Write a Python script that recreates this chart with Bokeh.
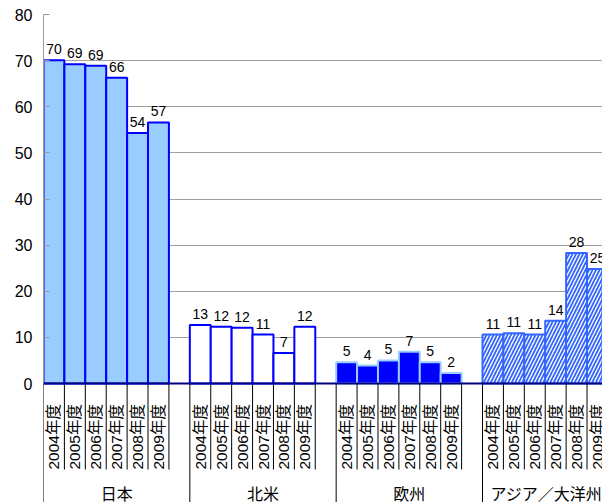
import numpy as np
from bokeh.plotting import figure
from bokeh.models import Range1d, FixedTicker, Span, ColumnDataSource
from bokeh.core.properties import value
from bokeh.embed import file_html
from bokeh.resources import INLINE

# ---- data ----
regions = ["日本", "北米", "欧州", "アジア／大洋州"]
years = ["2004年度", "2005年度", "2006年度", "2007年度", "2008年度", "2009年度"]
japan = [70.1, 69.2, 68.9, 66.3, 54.3, 56.6]
north_america = [12.7, 12.3, 12.1, 10.6, 6.6, 12.3]
europe = [4.6, 3.9, 5.0, 6.9, 4.6, 2.3]
asia_oceania = [10.6, 10.9, 10.6, 13.6, 28.3, 24.8]
y_ticks = [0, 10, 20, 30, 40, 50, 60, 70, 80]

series = [japan, north_america, europe, asia_oceania]

# ---- layout ----
FIG_W, FIG_H = 602, 502
LEFT, TOP = 43, 14
FRAME_W = FIG_W - LEFT
FRAME_H = FIG_H - TOP
PX = 4.6125          # px per unit
SLOT = 20.905        # px per bar slot
GROUP = 7            # 6 bars + 1 empty slot
x_end = FRAME_W / SLOT
y_top = 80
y_bottom = y_top - FRAME_H / PX

NUM_FONT = value("Liberation Sans")
MIX_FONT = value("Liberation Sans, Noto Sans CJK JP")
JP_FONT = value("Noto Sans CJK JP")

p = figure(width=FIG_W, height=FIG_H, output_backend="svg", toolbar_location=None,
           x_range=Range1d(0, x_end), y_range=Range1d(y_bottom, y_top),
           x_axis_location=None, min_border_left=LEFT, min_border_right=0,
           min_border_top=TOP, min_border_bottom=0)
p.outline_line_color = None
p.background_fill_color = "white"
p.xgrid.visible = False
p.ygrid.ticker = FixedTicker(ticks=[t for t in y_ticks if t > 0])
p.ygrid.grid_line_color = "#A0A0A0"
p.ygrid.grid_line_width = 1

ax = p.yaxis[0]
ax.ticker = FixedTicker(ticks=y_ticks)
ax.bounds = (0, 80)
ax.axis_line_color = "#999999"
ax.major_tick_in = 6
ax.major_tick_out = 0
ax.major_tick_line_color = "#999999"
ax.minor_tick_line_color = None
ax.major_label_standoff = 11
ax.major_label_text_font = "Liberation Sans"
ax.major_label_text_font_size = "16px"
ax.major_label_text_color = "black"

styles = [
    dict(fill_color="#99CCFF", line_color="#0000FF", line_width=2),
    dict(fill_color="white", line_color="#0000FF", line_width=2),
    dict(fill_color="#0000FF", line_color="#99CCFF", line_width=2),
    dict(fill_color="white", line_color="#3366FF", line_width=2,
         hatch_pattern="/", hatch_color="#3366FF", hatch_scale=7, hatch_weight=1.8),
]

for g, (vals, st) in enumerate(zip(series, styles)):
    xs = [g * GROUP + i + 0.5 for i in range(len(vals))]
    src = ColumnDataSource(dict(x=xs, top=vals,
                                lab=[f"{v:.0f}" for v in vals],
                                ly=[v + 11 / PX for v in vals]))
    p.vbar(x="x", top="top", bottom=0, width=1, source=src, **st)
    p.text(x="x", y="ly", text="lab", source=src, text_align="center",
           text_baseline="alphabetic", text_font=NUM_FONT,
           text_font_size="14px", text_color="black")
    # year labels
    p.text(x=xs, y=[-(470 - 384) / PX] * len(xs), text=years, angle=np.pi / 2,
           text_align="left", text_baseline="middle", text_font=MIX_FONT,
           text_font_size="15.5px", text_color="black")

# category separators below axis
short_x, long_x = [], []
for g in range(len(regions)):
    long_x.append(g * GROUP)
    for i in range(1, 7):
        short_x.append(g * GROUP + i)
short_y1 = -(470 - 384) / PX
p.segment(x0=short_x, y0=[0] * len(short_x), x1=short_x, y1=[short_y1] * len(short_x),
          line_color="black", line_width=1)
p.segment(x0=long_x, y0=[0] * len(long_x), x1=long_x, y1=[y_bottom] * len(long_x),
          line_color="black", line_width=1)

# group labels
gy = -(493 - 384) / PX
p.text(x=[g * GROUP + 3.5 for g in range(3)], y=[gy] * 3, text=regions[:3],
       text_align="center", text_baseline="middle", text_font=JP_FONT,
       text_font_size="16px", text_color="black")
p.text(x=[x_end], y=[gy], text=regions[3:], text_align="right",
       text_baseline="middle", text_font=JP_FONT, text_font_size="16px",
       text_color="black")

p.add_layout(Span(location=0, dimension="width", line_color="#000080", line_width=2))

open("out.html", "w").write(file_html(p, INLINE))
